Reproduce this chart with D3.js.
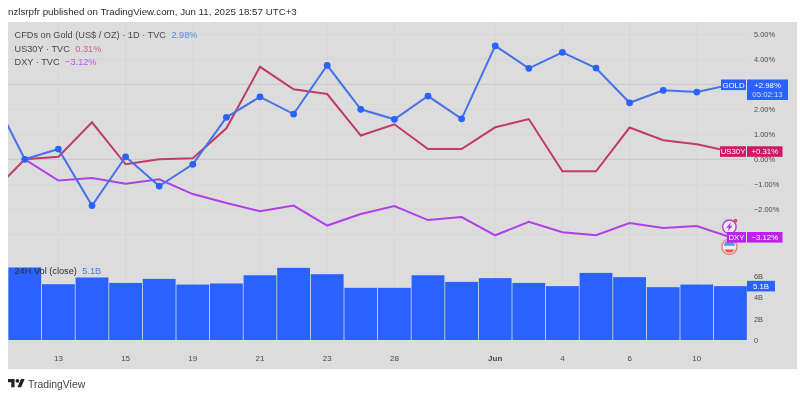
<!DOCTYPE html>
<html>
<head>
<meta charset="utf-8">
<script src="https://cdn.jsdelivr.net/npm/d3@7"></script>
<style>
    html, body { margin: 0; padding: 0; background: #fff; }
    svg { display: block; filter: blur(0.55px); }
    text { font-family: "Liberation Sans", Arial, sans-serif; }
    .axis text { fill: #4a4a4a; font-size: 7.4px; }
    .axis .domain { display: none; }
    .legend { fill: #4a4a4a; font-size: 9.2px; }
    .tag { fill: #fff; font-size: 7.8px; }
</style>
</head>
<body>
<svg width="800" height="394"></svg>
<script>
// **** Values ****
var days = ['May 9','12','13','14','15','16','19','20','21','22','23','27','28','29','30',
    'Jun','3','4','5','6','9','10','11'];
var dayTicks = ['13','15','19','21','23','28','Jun','4','6','10'];
var pctGrid = [5,4,3,2,1,0,-1,-2,-3];
var pctTicks = [5,4,2,1,0,-1,-2];
var volTicks = [0,2,4,6];

// percent change, first day is off the left edge of the pane
var gold = [2.66,0,0.41,-1.85,0.10,-1.07,-0.20,1.68,2.50,1.81,3.76,2.00,1.60,2.53,1.62,
    4.54,3.64,4.28,3.65,2.26,2.76,2.69,2.98];
var us30y = [-1.37,0,0.10,1.48,-0.20,0,0.04,1.24,3.70,2.80,2.61,0.95,1.40,0.41,0.41,
    1.28,1.61,-0.48,-0.48,1.27,0.76,0.60,0.31];
var dxy = [null,0,-0.85,-0.75,-0.98,-0.80,-1.39,-1.75,-2.08,-1.85,-2.65,-2.19,-1.87,-2.43,-2.31,
    -3.04,-2.50,-2.92,-3.04,-2.55,-2.75,-2.67,-3.12];
// 24H volume in billions, no bar for the first day
var volume = [6.8,5.23,5.86,5.35,5.73,5.2,5.3,6.07,6.76,6.17,4.89,4.89,6.07,5.45,5.8,5.35,5.05,
    6.29,5.89,4.95,5.2,5.05];

var blue = '#2962ff', grey = '#dcdcdc';

// **** Scales ****
var xScale = d3.scaleBand().domain(days).range([-25.6,747.2]);
var yScale = d3.scaleLinear().domain([5,-3]).range([34.3,234.3]);
var volScale = d3.scaleLinear().domain([0,6]).range([340,276]);

function midX(d) { return xScale(d) + xScale.bandwidth() / 2; }

var svg = d3.select('svg');

// header
svg.append('text').attr('class', 'legend')
    .text('nzlsrpfr published on TradingView.com, Jun 11, 2025 18:57 UTC+3')
    .attr('x', 8).attr('y', 15).style('fill', '#2c2c2c').style('font-size', '9.75px');

// pane background
svg.append('rect').attr('x', 8).attr('y', 22).attr('width', 789).attr('height', 347).attr('fill', grey);
svg.append('clipPath').attr('id', 'pane').append('rect')
    .attr('x', 8).attr('y', 22).attr('width', 739.2).attr('height', 347);

// **** Grid ****
var grid = svg.append('g').attr('clip-path', 'url(#pane)');
grid.selectAll('.vgrid').data(dayTicks).enter().append('line')
    .attr('x1', midX).attr('x2', midX).attr('y1', 22).attr('y2', 340)
    .attr('stroke', '#d6d6d6').attr('stroke-width', 1);
grid.selectAll('.hgrid').data(pctGrid).enter().append('line')
    .attr('x1', 8).attr('x2', 747)
    .attr('y1', function(d) { return yScale(d); })
    .attr('y2', function(d) { return yScale(d); })
    .attr('stroke', function(d) { return d == 0 || d == 3 ? '#c6c6cc' : '#d6d6d6'; })
    .attr('stroke-width', 1);

// **** Volume bars ****
svg.selectAll('.bar').data(volume).enter().append('rect')
    .attr('class', 'bar')
    .attr('x', function(d, i) { return xScale(days[i + 1]) + 0.4; })
    .attr('width', xScale.bandwidth() - 0.8)
    .attr('y', function(d) { return volScale(d); })
    .attr('height', function(d) { return volScale(0) - volScale(d); })
    .attr('fill', blue);

// **** Lines ****
var line = d3.line()
    .defined(function(d) { return d != null; })
    .x(function(d, i) { return midX(days[i]); })
    .y(function(d) { return yScale(d); });

var lines = svg.append('g').attr('clip-path', 'url(#pane)').attr('fill', 'none').attr('stroke-width', 2);
lines.append('path').datum(dxy).attr('d', line).attr('stroke', '#b13fe8');
lines.append('path').datum(us30y).attr('d', line).attr('stroke', '#c23b68');
lines.append('path').datum(gold).attr('d', line).attr('stroke', '#4672ea');

svg.append('g').attr('clip-path', 'url(#pane)').selectAll('circle').data(gold).enter().append('circle')
    .attr('cx', function(d, i) { return midX(days[i]); })
    .attr('cy', function(d) { return yScale(d); })
    .attr('r', 3.4)
    .attr('fill', blue);

// **** Axes ****
svg.append('g').attr('class', 'axis')
    .attr('transform', 'translate(747,0)')
    .call(d3.axisRight(yScale).tickValues(pctTicks).tickSize(0).tickPadding(7)
        .tickFormat(function(d) { return (d < 0 ? '\u2212' : '') + Math.abs(d).toFixed(2) + '%'; }));

svg.append('g').attr('class', 'axis')
    .attr('transform', 'translate(747,0)')
    .call(d3.axisRight(volScale).tickValues(volTicks).tickSize(0).tickPadding(7)
        .tickFormat(function(d) { return d == 0 ? '0' : d + 'B'; }));

var xAxis = svg.append('g').attr('class', 'axis')
    .attr('transform', 'translate(0,349)')
    .call(d3.axisBottom(xScale).tickValues(dayTicks).tickSize(0).tickPadding(6));
xAxis.selectAll('text').style('font-size', '8px')
    .style('font-weight', function(d) { return d == 'Jun' ? 'bold' : 'normal'; });

// **** Last value tags ****
function tag(name, value, extra, yVal, scale, color, nameX) {
    var y = scale(yVal), g = svg.append('g');
    if (name) {
        g.append('rect').attr('x', nameX).attr('y', y - 5.3).attr('width', 746 - nameX).attr('height', 10.6).attr('fill', color);
        g.append('text').attr('class', 'tag').attr('x', (nameX + 746) / 2).attr('y', y + 2.8)
            .attr('text-anchor', 'middle').text(name);
    }
    var w = extra ? 41 : (name ? 35.5 : 28);
    g.append('rect').attr('x', 747).attr('y', y - 5.3).attr('width', w).attr('height', extra ? 20.5 : 10.6).attr('fill', color);
    g.append('text').attr('class', 'tag').attr('x', 747 + w / 2).attr('y', y + 2.8)
        .attr('text-anchor', 'middle').text(value);
    if (extra) {
        g.append('text').attr('class', 'tag').attr('x', 747 + w / 2).attr('y', y + 12.6)
            .attr('text-anchor', 'middle').style('fill', '#cfdcff').text(extra);
    }
}

// **** Event icons on the last day ****
var lastX = midX('11') - 1;
var bolt = svg.append('g').attr('transform', 'translate(' + lastX + ',' + (yScale(-3.12) - 10.5) + ')');
bolt.append('circle').attr('r', 6.8).attr('fill', '#f0e8f6').attr('stroke', '#a63fd6').attr('stroke-width', 1.3);
bolt.append('path').attr('d', 'M2,-5 L-3.2,1 L-0.4,1 L-2,5 L3.2,-1 L0.4,-1 Z').attr('fill', '#a63fd6');
bolt.append('circle').attr('cx', 6).attr('cy', -6).attr('r', 2).attr('fill', '#f04a5a');

var flag = svg.append('g').attr('transform', 'translate(' + lastX + ',' + (yScale(-3.12) + 9.5) + ')');
flag.append('circle').attr('r', 7.6).attr('fill', '#f5eeee').attr('stroke', '#ef7a78').attr('stroke-width', 1.3);
flag.append('path').attr('d', 'M-5.5,-1 A5.5,5.5 0 0 1 5.5,-1 Z').attr('fill', '#5c96e8');
flag.append('path').attr('d', 'M-5,2.6 A5.5,5.5 0 0 0 5,2.6 Z').attr('fill', '#ef5350');

tag('GOLD', '+2.98%', '05:02:13', 2.98, yScale, blue, 721);
tag('US30Y', '+0.31%', null, 0.31, yScale, '#cc1a66', 720);
tag('DXY', '\u22123.12%', null, -3.12, yScale, '#bb22ee', 727);
tag(null, '5.1B', null, 5.05, volScale, blue, 0);

// **** Legend ****
function legendRow(y, label, value, color, labelColor) {
    var t = svg.append('text').attr('class', 'legend').attr('x', 14.5).attr('y', y);
    t.append('tspan').style('fill', labelColor || '#4a4a4a').text(label);
    t.append('tspan').attr('dx', 5.5).style('fill', color).text(value);
}
legendRow(37.5, 'CFDs on Gold (US$ / OZ) \u00b7 1D \u00b7 TVC', '2.98%', '#5b85ee');
legendRow(51.5, 'US30Y \u00b7 TVC', '0.31%', '#d4608c');
legendRow(65, 'DXY \u00b7 TVC', '\u22123.12%', '#bb55e8');
legendRow(274, '24H Vol (close)', '5.1B', '#4d78e8', '#2a2a3a');

// **** Logo ****
var logo = svg.append('g').attr('transform', 'translate(8,377) scale(0.47)').attr('fill', '#222');
logo.append('path').attr('d', 'M14 22H7V11H0V4h14v18zM28 22h-8l7.5-18h8L28 22z');
logo.append('circle').attr('cx', 20).attr('cy', 8).attr('r', 4);
svg.append('text').attr('x', 28).attr('y', 387.5).style('font-size', '10.4px').style('fill', '#444').text('TradingView');
</script>
</body>
</html>
